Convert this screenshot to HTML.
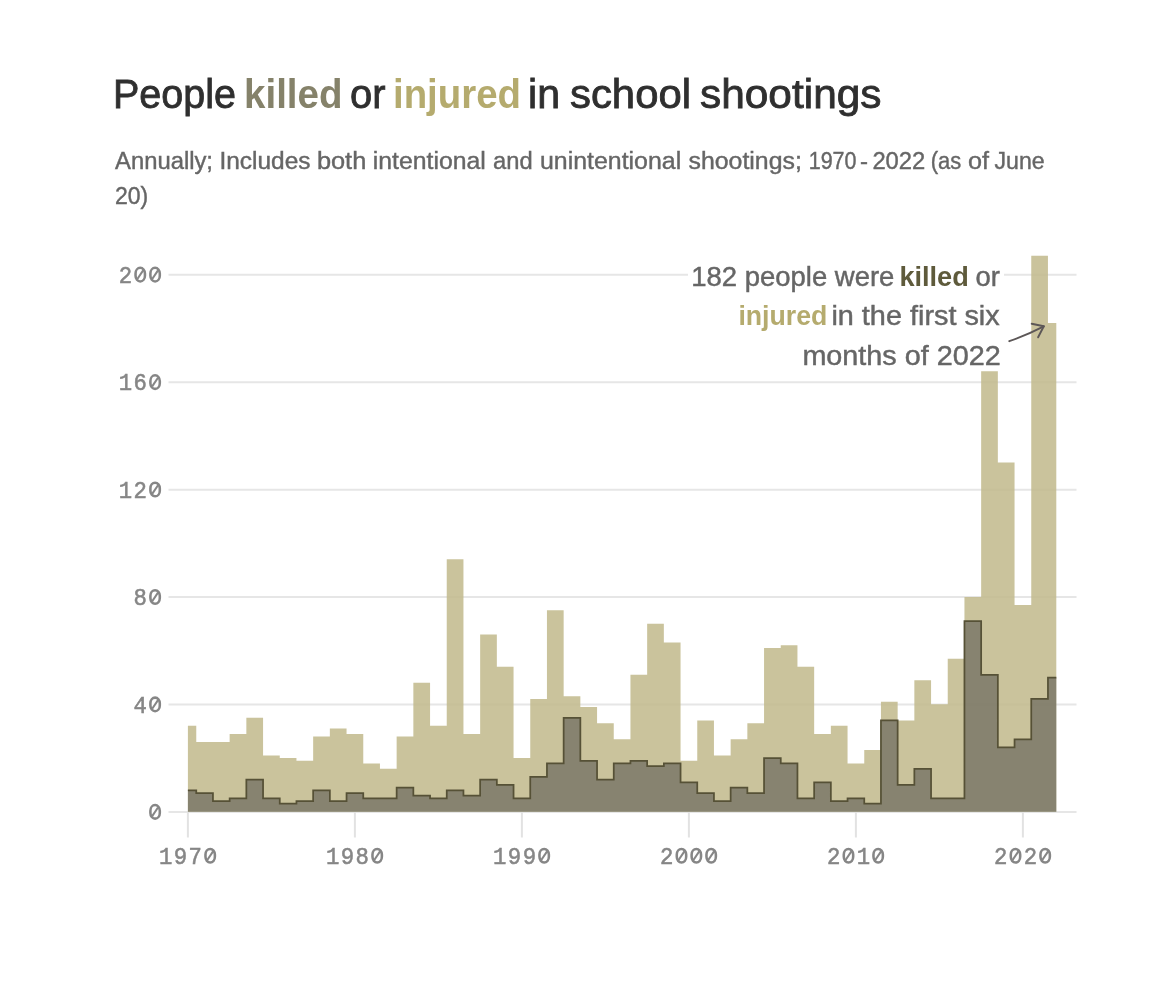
<!DOCTYPE html>
<html lang="en">
<head>
<meta charset="utf-8">
<title>People killed or injured in school shootings</title>
<style>
  html, body { margin:0; padding:0; background:#ffffff; }
  body { width:1164px; height:998px; position:relative; overflow:hidden;
         font-family:"Liberation Sans", sans-serif; }
  svg { position:absolute; left:0; top:0; display:block; will-change:transform; transform:translateZ(0); }
  .ax { font-family:"Liberation Mono", monospace; font-size:24px; fill:#868686; stroke:#868686; stroke-width:0.55px; }
  .title { font-family:"Liberation Sans", sans-serif; font-size:40px; fill:#2f2f2f; stroke:#2f2f2f; stroke-width:0.8px; }
  .sub { font-family:"Liberation Sans", sans-serif; font-size:23px; fill:#666666; stroke:#666666; stroke-width:0.4px; }
  .ann { font-family:"Liberation Sans", sans-serif; font-size:27px; fill:#666666; stroke:#666666; stroke-width:0.45px; }
  .k1 { fill:#85826a; stroke:none; font-weight:bold; }
  .i1 { fill:#b5ab6e; stroke:none; font-weight:bold; }
  .k2 { fill:#5e5a3b; stroke:none; font-weight:bold; }
  .i2 { fill:#b5ab6e; stroke:none; font-weight:bold; }
</style>
</head>
<body>
<svg width="1164" height="998" viewBox="0 0 1164 998">
<rect x="0" y="0" width="1164" height="998" fill="#ffffff"/>
<!-- title -->
<g class="title">
<text x="113" y="107.5" textLength="123" lengthAdjust="spacingAndGlyphs">People</text>
<text x="244" y="107.5" textLength="98.5" lengthAdjust="spacingAndGlyphs" class="k1">killed</text>
<text x="350" y="107.5" textLength="35.5" lengthAdjust="spacingAndGlyphs">or</text>
<text x="393" y="107.5" textLength="128" lengthAdjust="spacingAndGlyphs" class="i1">injured</text>
<text x="528" y="107.5" textLength="32" lengthAdjust="spacingAndGlyphs">in</text>
<text x="570" y="107.5" textLength="121" lengthAdjust="spacingAndGlyphs">school</text>
<text x="700" y="107.5" textLength="181.5" lengthAdjust="spacingAndGlyphs">shootings</text>
</g>
<!-- subtitle -->
<g class="sub">
<text x="115.0" y="169.3" textLength="98.0" lengthAdjust="spacingAndGlyphs">Annually;</text>
<text x="219.4" y="169.3" textLength="91.1" lengthAdjust="spacingAndGlyphs">Includes</text>
<text x="316.9" y="169.3" textLength="49.4" lengthAdjust="spacingAndGlyphs">both</text>
<text x="372.8" y="169.3" textLength="112.9" lengthAdjust="spacingAndGlyphs">intentional</text>
<text x="493.0" y="169.3" textLength="39.6" lengthAdjust="spacingAndGlyphs">and</text>
<text x="540.0" y="169.3" textLength="141.2" lengthAdjust="spacingAndGlyphs">unintentional</text>
<text x="688.5" y="169.3" textLength="113.4" lengthAdjust="spacingAndGlyphs">shootings;</text>
<text x="808.7" y="169.3" textLength="47.8" lengthAdjust="spacingAndGlyphs">1970</text>
<text x="860.0" y="169.3" textLength="8.0" lengthAdjust="spacingAndGlyphs">-</text>
<text x="872.4" y="169.3" textLength="52.9" lengthAdjust="spacingAndGlyphs">2022</text>
<text x="930.7" y="169.3" textLength="30.5" lengthAdjust="spacingAndGlyphs">(as</text>
<text x="968.0" y="169.3" textLength="21.0" lengthAdjust="spacingAndGlyphs">of</text>
<text x="994.5" y="169.3" textLength="50.1" lengthAdjust="spacingAndGlyphs">June</text>
</g>
<text x="115" y="204.3" class="sub">20)</text>
<!-- grid -->
<line x1="168.5" x2="1076.5" y1="812.00" y2="812.00" stroke="#e6e6e6" stroke-width="2"/>
<line x1="168.5" x2="1076.5" y1="704.56" y2="704.56" stroke="#e6e6e6" stroke-width="2"/>
<line x1="168.5" x2="1076.5" y1="597.12" y2="597.12" stroke="#e6e6e6" stroke-width="2"/>
<line x1="168.5" x2="1076.5" y1="489.68" y2="489.68" stroke="#e6e6e6" stroke-width="2"/>
<line x1="168.5" x2="1076.5" y1="382.24" y2="382.24" stroke="#e6e6e6" stroke-width="2"/>
<line x1="168.5" x2="1076.5" y1="274.80" y2="274.80" stroke="#e6e6e6" stroke-width="2"/>

<line x1="187.90" x2="187.90" y1="812" y2="837.5" stroke="#e2e2e2" stroke-width="2"/>
<line x1="354.90" x2="354.90" y1="812" y2="837.5" stroke="#e2e2e2" stroke-width="2"/>
<line x1="521.90" x2="521.90" y1="812" y2="837.5" stroke="#e2e2e2" stroke-width="2"/>
<line x1="688.90" x2="688.90" y1="812" y2="837.5" stroke="#e2e2e2" stroke-width="2"/>
<line x1="855.90" x2="855.90" y1="812" y2="837.5" stroke="#e2e2e2" stroke-width="2"/>
<line x1="1022.90" x2="1022.90" y1="812" y2="837.5" stroke="#e2e2e2" stroke-width="2"/>

<!-- areas -->
<path d="M187.90,811.80 L187.90,725.85 L196.25,725.85 L196.25,741.96 L212.95,741.96 L212.95,741.96 L229.65,741.96 L229.65,733.91 L246.35,733.91 L246.35,717.79 L263.05,717.79 L263.05,755.39 L279.75,755.39 L279.75,758.08 L296.45,758.08 L296.45,760.77 L313.15,760.77 L313.15,736.59 L329.85,736.59 L329.85,728.53 L346.55,728.53 L346.55,733.91 L363.25,733.91 L363.25,763.45 L379.95,763.45 L379.95,768.82 L396.65,768.82 L396.65,736.59 L413.35,736.59 L413.35,682.87 L430.05,682.87 L430.05,725.85 L446.75,725.85 L446.75,559.32 L463.45,559.32 L463.45,733.91 L480.15,733.91 L480.15,634.52 L496.85,634.52 L496.85,666.76 L513.55,666.76 L513.55,758.08 L530.25,758.08 L530.25,698.99 L546.95,698.99 L546.95,610.35 L563.65,610.35 L563.65,696.30 L580.35,696.30 L580.35,707.05 L597.05,707.05 L597.05,723.16 L613.75,723.16 L613.75,739.28 L630.45,739.28 L630.45,674.81 L647.15,674.81 L647.15,623.78 L663.85,623.78 L663.85,642.58 L680.55,642.58 L680.55,760.77 L697.25,760.77 L697.25,720.48 L713.95,720.48 L713.95,755.39 L730.65,755.39 L730.65,739.28 L747.35,739.28 L747.35,723.16 L764.05,723.16 L764.05,647.95 L780.75,647.95 L780.75,645.27 L797.45,645.27 L797.45,666.76 L814.15,666.76 L814.15,733.91 L830.85,733.91 L830.85,725.85 L847.55,725.85 L847.55,763.45 L864.25,763.45 L864.25,750.02 L880.95,750.02 L880.95,701.67 L897.65,701.67 L897.65,720.48 L914.35,720.48 L914.35,680.19 L931.05,680.19 L931.05,704.36 L947.75,704.36 L947.75,658.70 L964.45,658.70 L964.45,596.92 L981.15,596.92 L981.15,371.30 L997.85,371.30 L997.85,462.62 L1014.55,462.62 L1014.55,604.98 L1031.25,604.98 L1031.25,255.80 L1047.95,255.80 L1047.95,322.95 L1056.30,322.95 L1056.30,811.80 Z" fill="#c1b88b" fill-opacity="0.85"/>
<path d="M187.90,811.80 L187.90,790.31 L196.25,790.31 L196.25,793.00 L212.95,793.00 L212.95,801.06 L229.65,801.06 L229.65,798.37 L246.35,798.37 L246.35,779.57 L263.05,779.57 L263.05,798.37 L279.75,798.37 L279.75,803.74 L296.45,803.74 L296.45,801.06 L313.15,801.06 L313.15,790.31 L329.85,790.31 L329.85,801.06 L346.55,801.06 L346.55,793.00 L363.25,793.00 L363.25,798.37 L379.95,798.37 L379.95,798.37 L396.65,798.37 L396.65,787.63 L413.35,787.63 L413.35,795.68 L430.05,795.68 L430.05,798.37 L446.75,798.37 L446.75,790.31 L463.45,790.31 L463.45,795.68 L480.15,795.68 L480.15,779.57 L496.85,779.57 L496.85,784.94 L513.55,784.94 L513.55,798.37 L530.25,798.37 L530.25,776.88 L546.95,776.88 L546.95,763.45 L563.65,763.45 L563.65,717.79 L580.35,717.79 L580.35,760.77 L597.05,760.77 L597.05,779.57 L613.75,779.57 L613.75,763.45 L630.45,763.45 L630.45,760.77 L647.15,760.77 L647.15,766.14 L663.85,766.14 L663.85,763.45 L680.55,763.45 L680.55,782.25 L697.25,782.25 L697.25,793.00 L713.95,793.00 L713.95,801.06 L730.65,801.06 L730.65,787.63 L747.35,787.63 L747.35,793.00 L764.05,793.00 L764.05,758.08 L780.75,758.08 L780.75,763.45 L797.45,763.45 L797.45,798.37 L814.15,798.37 L814.15,782.25 L830.85,782.25 L830.85,801.06 L847.55,801.06 L847.55,798.37 L864.25,798.37 L864.25,803.74 L880.95,803.74 L880.95,720.48 L897.65,720.48 L897.65,784.94 L914.35,784.94 L914.35,768.82 L931.05,768.82 L931.05,798.37 L947.75,798.37 L947.75,798.37 L964.45,798.37 L964.45,621.09 L981.15,621.09 L981.15,674.81 L997.85,674.81 L997.85,747.34 L1014.55,747.34 L1014.55,739.28 L1031.25,739.28 L1031.25,698.99 L1047.95,698.99 L1047.95,677.50 L1056.30,677.50 L1056.30,811.80 Z" fill="#64615a" fill-opacity="0.66"/>
<path d="M187.90,790.31 L196.25,790.31 L196.25,793.00 L212.95,793.00 L212.95,801.06 L229.65,801.06 L229.65,798.37 L246.35,798.37 L246.35,779.57 L263.05,779.57 L263.05,798.37 L279.75,798.37 L279.75,803.74 L296.45,803.74 L296.45,801.06 L313.15,801.06 L313.15,790.31 L329.85,790.31 L329.85,801.06 L346.55,801.06 L346.55,793.00 L363.25,793.00 L363.25,798.37 L379.95,798.37 L379.95,798.37 L396.65,798.37 L396.65,787.63 L413.35,787.63 L413.35,795.68 L430.05,795.68 L430.05,798.37 L446.75,798.37 L446.75,790.31 L463.45,790.31 L463.45,795.68 L480.15,795.68 L480.15,779.57 L496.85,779.57 L496.85,784.94 L513.55,784.94 L513.55,798.37 L530.25,798.37 L530.25,776.88 L546.95,776.88 L546.95,763.45 L563.65,763.45 L563.65,717.79 L580.35,717.79 L580.35,760.77 L597.05,760.77 L597.05,779.57 L613.75,779.57 L613.75,763.45 L630.45,763.45 L630.45,760.77 L647.15,760.77 L647.15,766.14 L663.85,766.14 L663.85,763.45 L680.55,763.45 L680.55,782.25 L697.25,782.25 L697.25,793.00 L713.95,793.00 L713.95,801.06 L730.65,801.06 L730.65,787.63 L747.35,787.63 L747.35,793.00 L764.05,793.00 L764.05,758.08 L780.75,758.08 L780.75,763.45 L797.45,763.45 L797.45,798.37 L814.15,798.37 L814.15,782.25 L830.85,782.25 L830.85,801.06 L847.55,801.06 L847.55,798.37 L864.25,798.37 L864.25,803.74 L880.95,803.74 L880.95,720.48 L897.65,720.48 L897.65,784.94 L914.35,784.94 L914.35,768.82 L931.05,768.82 L931.05,798.37 L947.75,798.37 L947.75,798.37 L964.45,798.37 L964.45,621.09 L981.15,621.09 L981.15,674.81 L997.85,674.81 L997.85,747.34 L1014.55,747.34 L1014.55,739.28 L1031.25,739.28 L1031.25,698.99 L1047.95,698.99 L1047.95,677.50 L1056.30,677.50" fill="none" stroke="#565136" stroke-width="1.75" stroke-linejoin="miter"/>
<!-- axis labels -->
<g transform="translate(155.10,811.85)" fill="none" stroke="#868686"><rect x="-4.7" y="-6.8" width="9.4" height="13.6" rx="4.7" ry="5.7" stroke-width="2.55"/><line x1="-2.9" y1="4.3" x2="2.9" y2="-4.3" stroke-width="2.05"/></g>
<text transform="translate(140.25,712.81) scale(0.93,1)" x="0" y="0" text-anchor="middle" class="ax">4</text>
<g transform="translate(155.10,704.41)" fill="none" stroke="#868686"><rect x="-4.7" y="-6.8" width="9.4" height="13.6" rx="4.7" ry="5.7" stroke-width="2.55"/><line x1="-2.9" y1="4.3" x2="2.9" y2="-4.3" stroke-width="2.05"/></g>
<text transform="translate(140.25,605.37) scale(0.93,1)" x="0" y="0" text-anchor="middle" class="ax">8</text>
<g transform="translate(155.10,596.97)" fill="none" stroke="#868686"><rect x="-4.7" y="-6.8" width="9.4" height="13.6" rx="4.7" ry="5.7" stroke-width="2.55"/><line x1="-2.9" y1="4.3" x2="2.9" y2="-4.3" stroke-width="2.05"/></g>
<text transform="translate(125.40,497.93) scale(0.93,1)" x="0" y="0" text-anchor="middle" class="ax">1</text>
<text transform="translate(140.25,497.93) scale(0.93,1)" x="0" y="0" text-anchor="middle" class="ax">2</text>
<g transform="translate(155.10,489.53)" fill="none" stroke="#868686"><rect x="-4.7" y="-6.8" width="9.4" height="13.6" rx="4.7" ry="5.7" stroke-width="2.55"/><line x1="-2.9" y1="4.3" x2="2.9" y2="-4.3" stroke-width="2.05"/></g>
<text transform="translate(125.40,390.49) scale(0.93,1)" x="0" y="0" text-anchor="middle" class="ax">1</text>
<text transform="translate(140.25,390.49) scale(0.93,1)" x="0" y="0" text-anchor="middle" class="ax">6</text>
<g transform="translate(155.10,382.09)" fill="none" stroke="#868686"><rect x="-4.7" y="-6.8" width="9.4" height="13.6" rx="4.7" ry="5.7" stroke-width="2.55"/><line x1="-2.9" y1="4.3" x2="2.9" y2="-4.3" stroke-width="2.05"/></g>
<text transform="translate(125.40,283.05) scale(0.93,1)" x="0" y="0" text-anchor="middle" class="ax">2</text>
<g transform="translate(140.25,274.65)" fill="none" stroke="#868686"><rect x="-4.7" y="-6.8" width="9.4" height="13.6" rx="4.7" ry="5.7" stroke-width="2.55"/><line x1="-2.9" y1="4.3" x2="2.9" y2="-4.3" stroke-width="2.05"/></g>
<g transform="translate(155.10,274.65)" fill="none" stroke="#868686"><rect x="-4.7" y="-6.8" width="9.4" height="13.6" rx="4.7" ry="5.7" stroke-width="2.55"/><line x1="-2.9" y1="4.3" x2="2.9" y2="-4.3" stroke-width="2.05"/></g>

<text transform="translate(165.62,864.10) scale(0.93,1)" x="0" y="0" text-anchor="middle" class="ax">1</text>
<text transform="translate(180.47,864.10) scale(0.93,1)" x="0" y="0" text-anchor="middle" class="ax">9</text>
<text transform="translate(195.32,864.10) scale(0.93,1)" x="0" y="0" text-anchor="middle" class="ax">7</text>
<g transform="translate(210.18,855.70)" fill="none" stroke="#868686"><rect x="-4.7" y="-6.8" width="9.4" height="13.6" rx="4.7" ry="5.7" stroke-width="2.55"/><line x1="-2.9" y1="4.3" x2="2.9" y2="-4.3" stroke-width="2.05"/></g>
<text transform="translate(332.62,864.10) scale(0.93,1)" x="0" y="0" text-anchor="middle" class="ax">1</text>
<text transform="translate(347.48,864.10) scale(0.93,1)" x="0" y="0" text-anchor="middle" class="ax">9</text>
<text transform="translate(362.32,864.10) scale(0.93,1)" x="0" y="0" text-anchor="middle" class="ax">8</text>
<g transform="translate(377.18,855.70)" fill="none" stroke="#868686"><rect x="-4.7" y="-6.8" width="9.4" height="13.6" rx="4.7" ry="5.7" stroke-width="2.55"/><line x1="-2.9" y1="4.3" x2="2.9" y2="-4.3" stroke-width="2.05"/></g>
<text transform="translate(499.62,864.10) scale(0.93,1)" x="0" y="0" text-anchor="middle" class="ax">1</text>
<text transform="translate(514.48,864.10) scale(0.93,1)" x="0" y="0" text-anchor="middle" class="ax">9</text>
<text transform="translate(529.33,864.10) scale(0.93,1)" x="0" y="0" text-anchor="middle" class="ax">9</text>
<g transform="translate(544.17,855.70)" fill="none" stroke="#868686"><rect x="-4.7" y="-6.8" width="9.4" height="13.6" rx="4.7" ry="5.7" stroke-width="2.55"/><line x1="-2.9" y1="4.3" x2="2.9" y2="-4.3" stroke-width="2.05"/></g>
<text transform="translate(666.62,864.10) scale(0.93,1)" x="0" y="0" text-anchor="middle" class="ax">2</text>
<g transform="translate(681.48,855.70)" fill="none" stroke="#868686"><rect x="-4.7" y="-6.8" width="9.4" height="13.6" rx="4.7" ry="5.7" stroke-width="2.55"/><line x1="-2.9" y1="4.3" x2="2.9" y2="-4.3" stroke-width="2.05"/></g>
<g transform="translate(696.33,855.70)" fill="none" stroke="#868686"><rect x="-4.7" y="-6.8" width="9.4" height="13.6" rx="4.7" ry="5.7" stroke-width="2.55"/><line x1="-2.9" y1="4.3" x2="2.9" y2="-4.3" stroke-width="2.05"/></g>
<g transform="translate(711.17,855.70)" fill="none" stroke="#868686"><rect x="-4.7" y="-6.8" width="9.4" height="13.6" rx="4.7" ry="5.7" stroke-width="2.55"/><line x1="-2.9" y1="4.3" x2="2.9" y2="-4.3" stroke-width="2.05"/></g>
<text transform="translate(833.62,864.10) scale(0.93,1)" x="0" y="0" text-anchor="middle" class="ax">2</text>
<g transform="translate(848.48,855.70)" fill="none" stroke="#868686"><rect x="-4.7" y="-6.8" width="9.4" height="13.6" rx="4.7" ry="5.7" stroke-width="2.55"/><line x1="-2.9" y1="4.3" x2="2.9" y2="-4.3" stroke-width="2.05"/></g>
<text transform="translate(863.33,864.10) scale(0.93,1)" x="0" y="0" text-anchor="middle" class="ax">1</text>
<g transform="translate(878.17,855.70)" fill="none" stroke="#868686"><rect x="-4.7" y="-6.8" width="9.4" height="13.6" rx="4.7" ry="5.7" stroke-width="2.55"/><line x1="-2.9" y1="4.3" x2="2.9" y2="-4.3" stroke-width="2.05"/></g>
<text transform="translate(1000.62,864.10) scale(0.93,1)" x="0" y="0" text-anchor="middle" class="ax">2</text>
<g transform="translate(1015.48,855.70)" fill="none" stroke="#868686"><rect x="-4.7" y="-6.8" width="9.4" height="13.6" rx="4.7" ry="5.7" stroke-width="2.55"/><line x1="-2.9" y1="4.3" x2="2.9" y2="-4.3" stroke-width="2.05"/></g>
<text transform="translate(1030.33,864.10) scale(0.93,1)" x="0" y="0" text-anchor="middle" class="ax">2</text>
<g transform="translate(1045.17,855.70)" fill="none" stroke="#868686"><rect x="-4.7" y="-6.8" width="9.4" height="13.6" rx="4.7" ry="5.7" stroke-width="2.55"/><line x1="-2.9" y1="4.3" x2="2.9" y2="-4.3" stroke-width="2.05"/></g>

<!-- annotation -->
<rect x="688" y="271" width="316" height="8" fill="#ffffff"/>
<g class="ann">
<text x="691.2" y="286" textLength="203.2" lengthAdjust="spacingAndGlyphs">182 people were</text>
<text x="899.4" y="286" textLength="69.4" lengthAdjust="spacingAndGlyphs" class="k2">killed</text>
<text x="975.5" y="286" textLength="24.4" lengthAdjust="spacingAndGlyphs">or</text>
<text x="738.4" y="325.2" textLength="89" lengthAdjust="spacingAndGlyphs" class="i2">injured</text>
<text x="831.4" y="325.2" textLength="168.3" lengthAdjust="spacingAndGlyphs">in the first six</text>
<text x="802.4" y="364.6" textLength="198.3" lengthAdjust="spacingAndGlyphs">months of 2022</text>
</g>
<g fill="none" stroke="#5c5757" stroke-width="1.9" stroke-linecap="round" stroke-linejoin="round">
<path d="M1009.3,341.2 Q1027,334.9 1043.8,326.3"/>
<path d="M1031.7,323.8 L1043.8,326.3 L1038.1,337.3"/>
</g>
</svg>
</body>
</html>
